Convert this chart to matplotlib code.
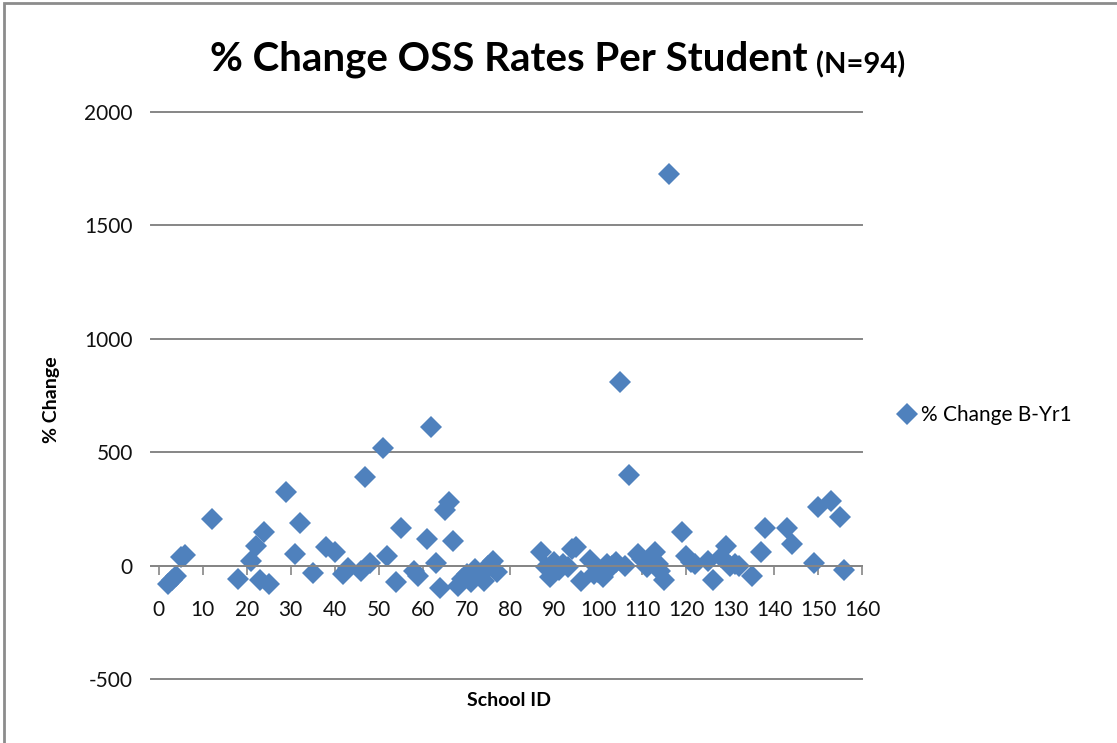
import numpy as np
import matplotlib.pyplot as plt
from matplotlib.patches import Rectangle

# school id vs % change
school_id = [2, 3, 4, 5, 6, 12, 18, 21, 22, 23, 24, 25, 29, 31, 32, 35, 38, 40,
             42, 43, 46, 47, 48, 51, 52, 54, 55, 58, 59, 61, 62, 63, 64, 65, 66,
             67, 68, 69, 70, 71, 72, 73, 74, 75, 76, 77, 87, 88, 89, 90, 91, 92,
             93, 94, 95, 96, 98, 99, 100, 101, 102, 103, 104, 105, 106, 107, 109,
             110, 111, 113, 113.5, 114, 115, 116, 119, 120, 121, 122, 125, 126,
             128, 129, 130, 131, 132, 135, 137, 138, 143, 144, 149, 150, 153,
             155, 156]
pct_change = [-80, -62, -45, 40, 45, 205, -58, 22, 88, -65, 150, -83, 323, 50,
              187, -34, 80, 62, -35, -12, -25, 390, 10, 520, 44, -74, 165, -25,
              -45, 118, 610, 10, -100, 243, 280, 110, -90, -59, -37, -74, -15,
              -44, -66, 0, 22, -29, 60, -7, -51, 15, -20, 5, -7, 75, 80, -66, 25,
              -37, -29, -51, 7, 0, 15, 810, 0, 400, 50, 30, -7, 59, 7, -22, -62,
              1725, 150, 44, 15, 7, 22, -62, 37, 88, 0, 7, 0, -44, 59, 165, 165,
              96, 10, 260, 287, 213, -19]

x_ticks = list(range(0, 161, 10))
y_ticks = [-500, 0, 500, 1000, 1500, 2000]

blue = '#4F81BD'
grid_gray = '#868686'
font = ['Lato', 'DejaVu Sans']
plt.rcParams['font.family'] = font
plt.rcParams['axes.unicode_minus'] = False

W, H = 1117, 743
fig = plt.figure(figsize=(W / 100, H / 100), dpi=100)
ax = fig.add_axes([151 / W, 1 - 679 / H, (862 - 151) / W, (679 - 112) / H])

ax.plot(school_id, pct_change, linestyle='none', marker='D', markersize=11.5,
        color=blue, markeredgewidth=0, label='% Change B-Yr1')

ax.set_xlim(-1.8, 160)
ax.set_ylim(-500, 2000)
ax.set_xticks(x_ticks)
ax.set_yticks(y_ticks)

ax.grid(axis='y', color=grid_gray, linewidth=1.4)
ax.set_axisbelow(True)
for ln in ax.get_ygridlines():
    ln.set_clip_on(False)

for s in ['top', 'right', 'left']:
    ax.spines[s].set_visible(False)
ax.spines['bottom'].set_position(('data', 0))
ax.spines['bottom'].set_color(grid_gray)
ax.spines['bottom'].set_linewidth(1.4)

ax.tick_params(axis='x', direction='out', length=6.5, width=1.2, color=grid_gray,
               pad=18, labelsize=15, labelcolor='#111111')
ax.tick_params(axis='y', length=0, pad=13, labelsize=15, labelcolor='#111111')

fig.text(52 / W, 1 - 400 / H, '% Change', rotation=90, ha='center', va='center',
         fontsize=14, fontweight='bold')
fig.text(509 / W, 1 - 700 / H, 'School ID', ha='center', va='center',
         fontsize=14, fontweight='bold')

t = fig.text(210 / W, 1 - 71 / H, '% Change OSS Rates Per Student', ha='left',
             va='baseline', fontsize=29, fontweight='bold')
ax.annotate('(N=94)', xy=(1, 0), xycoords=t, xytext=(6, 0),
            textcoords='offset points', ha='left', va='bottom',
            fontsize=21, fontweight='bold')

ax.legend(loc='center left', bbox_to_anchor=(888 / W, 1 - 415 / H),
          bbox_transform=fig.transFigure, frameon=False, fontsize=15,
          handlelength=0.8, handletextpad=0.3, borderpad=0)

# chart frame (only left and top edges show in the crop)
fig.add_artist(Rectangle((4 / W, -0.1), 1.2, 1.1 - 3 / H, transform=fig.transFigure,
                         fill=False, edgecolor='#8c8c8c', linewidth=2))

fig.savefig('out.png', dpi=100, facecolor='white')
